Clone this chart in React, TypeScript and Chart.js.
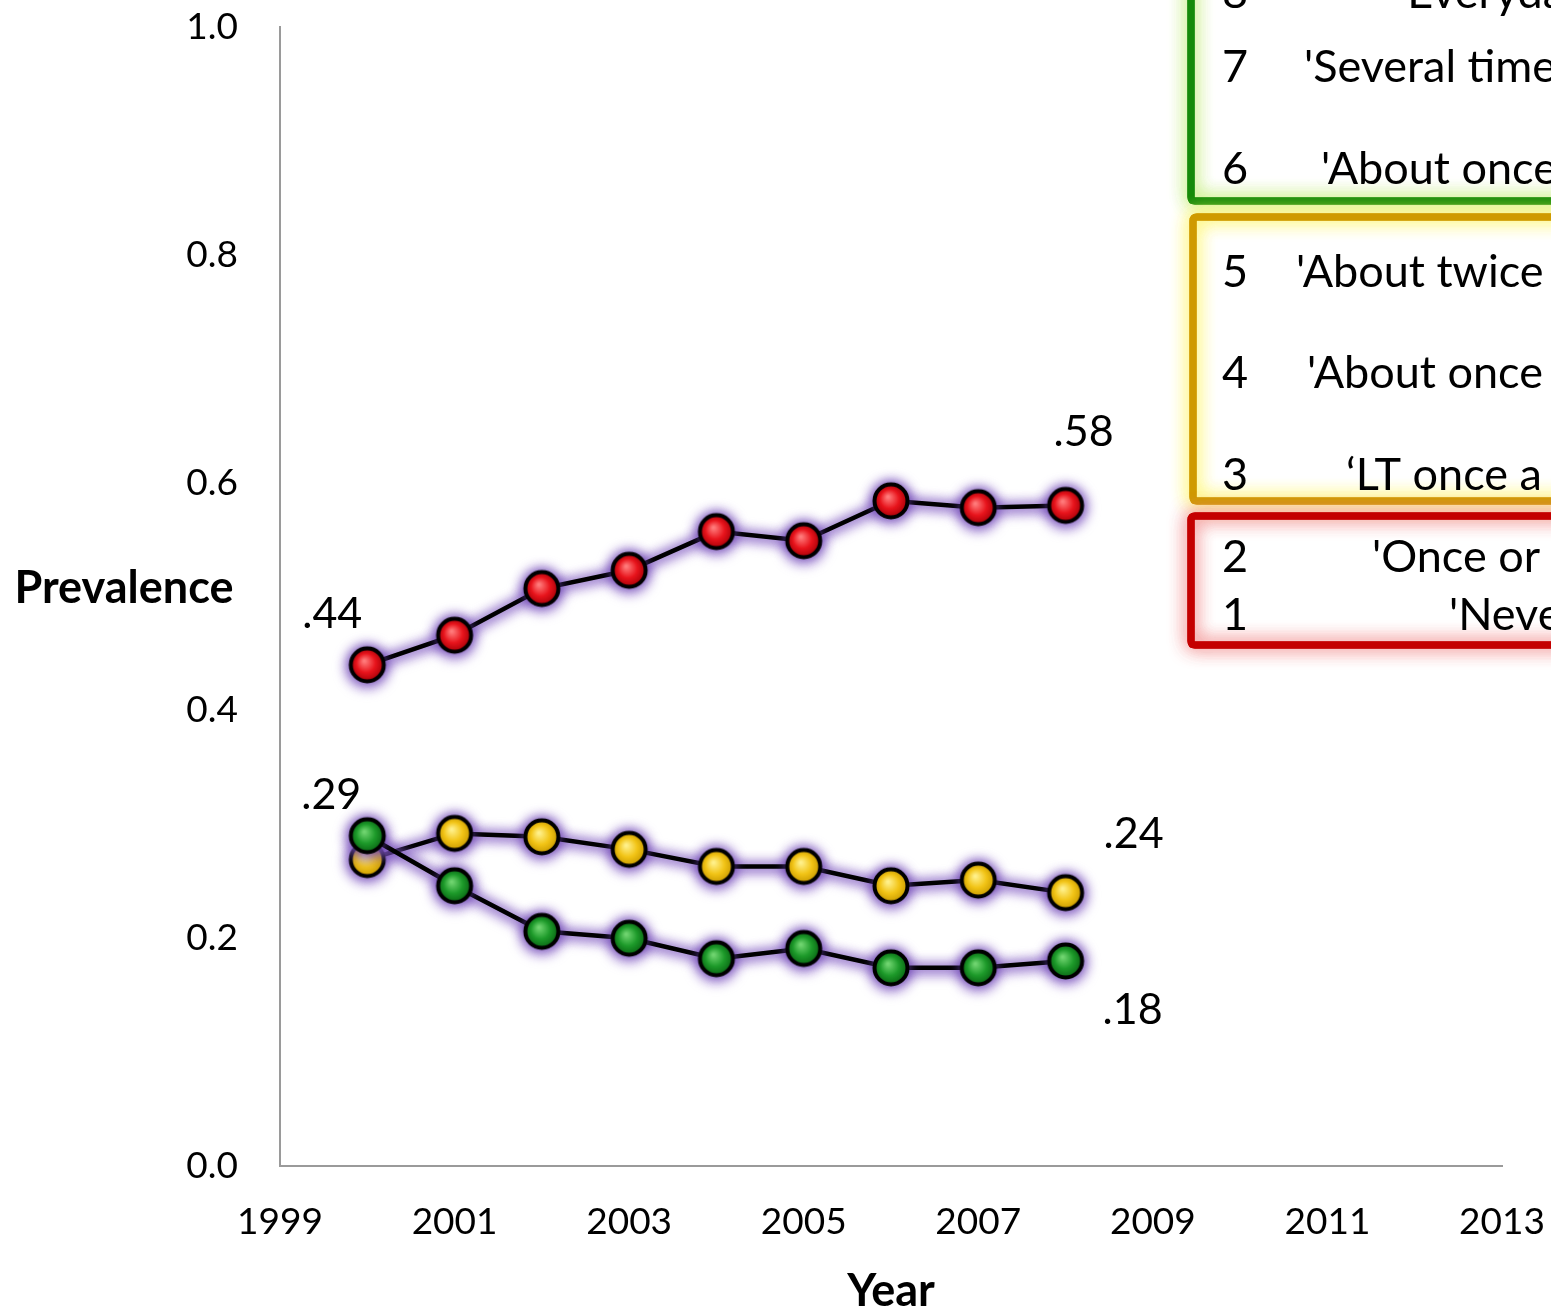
import React, { useEffect, useRef } from 'react';
import { Chart, registerables } from 'chart.js';

Chart.register(...registerables);

// Survey years
const years = [2000, 2001, 2002, 2003, 2004, 2005, 2006, 2007, 2008];

// Prevalence by response group
const rarelyOrNever = [0.44, 0.466, 0.507, 0.523, 0.557, 0.549, 0.584, 0.578, 0.58];
const monthly = [0.269, 0.292, 0.289, 0.278, 0.263, 0.263, 0.246, 0.251, 0.24];
const weeklyOrMore = [0.29, 0.246, 0.206, 0.2, 0.182, 0.191, 0.174, 0.174, 0.18];

// Axis ticks
const xTicks = [1999, 2001, 2003, 2005, 2007, 2009, 2011, 2013];
const yTicks = [0, 0.2, 0.4, 0.6, 0.8, 1.0];

// Response scale shown in the key, grouped by colour band
const greenBand = [
  { code: '8', text: "'Everyday'" },
  { code: '7', text: "'Several times a week'" },
  { code: '6', text: "'About once a week'" },
];
const yellowBand = [
  { code: '5', text: "'About twice a month'" },
  { code: '4', text: "'About once a month'" },
  { code: '3', text: '\u2018LT once a month\u2019' },
];
const redBand = [
  { code: '2', text: "'Once or twice a year'" },
  { code: '1', text: "'Never'" },
];

const FONT = 'Lato, "Liberation Sans", sans-serif';

function makeSphere(base: string, light: string, dark: string): HTMLCanvasElement {
  const size = 44;
  const c = document.createElement('canvas');
  c.width = size;
  c.height = size;
  const g = c.getContext('2d')!;
  const cx = size / 2;
  const cy = size / 2;
  const r = 16.5;
  const grad = g.createRadialGradient(cx - 3, cy - 4, 1, cx, cy, r);
  grad.addColorStop(0, light);
  grad.addColorStop(0.55, base);
  grad.addColorStop(1, dark);
  g.beginPath();
  g.arc(cx, cy, r, 0, Math.PI * 2);
  g.fillStyle = grad;
  g.fill();
  g.lineWidth = 4;
  g.strokeStyle = '#000';
  g.stroke();
  return c;
}

function roundRectPath(ctx: CanvasRenderingContext2D, x: number, y: number, w: number, h: number, r: number) {
  ctx.beginPath();
  ctx.moveTo(x + r, y);
  ctx.lineTo(x + w - r, y);
  ctx.quadraticCurveTo(x + w, y, x + w, y + r);
  ctx.lineTo(x + w, y + h - r);
  ctx.quadraticCurveTo(x + w, y + h, x + w - r, y + h);
  ctx.lineTo(x + r, y + h);
  ctx.quadraticCurveTo(x, y + h, x, y + h - r);
  ctx.lineTo(x, y + r);
  ctx.quadraticCurveTo(x, y, x + r, y);
  ctx.closePath();
}

export default function App() {
  const canvasRef = useRef<HTMLCanvasElement | null>(null);

  useEffect(() => {
    document.body.style.margin = '0';
    const canvas = canvasRef.current;
    if (!canvas) return;

    const redDot = makeSphere('#e8141c', '#ff7a7a', '#a80008');
    const yellowDot = makeSphere('#f2c416', '#fff08a', '#c99a00');
    const greenDot = makeSphere('#1d9a2a', '#6fd46f', '#0a6614');

    // soft lavender halo behind each series, then a shadow on the series itself
    const glowPlugin = {
      id: 'glow',
      beforeDatasetDraw(chart: any, args: any) {
        const ctx: CanvasRenderingContext2D = chart.ctx;
        const pts = args.meta.data as any[];
        ctx.save();
        ctx.filter = 'blur(6px)';
        ctx.strokeStyle = 'rgba(140, 100, 205, 0.55)';
        ctx.fillStyle = 'rgba(140, 100, 205, 0.6)';
        ctx.lineWidth = 13;
        ctx.lineJoin = 'round';
        ctx.beginPath();
        pts.forEach((p, k) => {
          if (k === 0) ctx.moveTo(p.x, p.y + 2);
          else ctx.lineTo(p.x, p.y + 2);
        });
        ctx.stroke();
        pts.forEach((p) => {
          ctx.beginPath();
          ctx.arc(p.x, p.y + 2, 23, 0, Math.PI * 2);
          ctx.fill();
        });
        ctx.restore();

        ctx.save();
        ctx.shadowColor = 'rgba(100, 60, 170, 0.9)';
        ctx.shadowBlur = 12;
      },
      afterDatasetDraw(chart: any) {
        chart.ctx.restore();
      },
    };

    // value labels at the start and end of series
    const valueLabels = [
      { ds: 0, i: 0, dx: -35, dy: -37 },
      { ds: 1, i: 0, dx: -36, dy: -27 },
      { ds: 0, i: 8, dx: 18, dy: -59 },
      { ds: 2, i: 8, dx: 68, dy: -45 },
      { ds: 1, i: 8, dx: 67, dy: 63 },
    ];

    const annotationPlugin = {
      id: 'annotations',
      afterDatasetsDraw(chart: any) {
        const ctx: CanvasRenderingContext2D = chart.ctx;
        ctx.save();
        ctx.fillStyle = '#000';
        ctx.font = `43px ${FONT}`;
        ctx.textAlign = 'center';
        ctx.textBaseline = 'alphabetic';
        for (const l of valueLabels) {
          const pt = chart.getDatasetMeta(l.ds).data[l.i];
          const raw: any = chart.data.datasets[l.ds].data[l.i];
          const v = typeof raw === 'number' ? raw : raw.y;
          const txt = v.toFixed(2).replace(/^0/, '');
          ctx.fillText(txt, pt.x + l.dx, pt.y + l.dy);
        }

        // axis titles
        const area = chart.chartArea;
        ctx.font = `bold 45px ${FONT}`;
        ctx.textBaseline = 'middle';
        ctx.fillText('Prevalence', 124, (area.top + area.bottom) / 2 - 8);
        ctx.fillText('Year', (area.left + area.right) / 2, 1291);
        ctx.restore();
      },
      afterDraw(chart: any) {
        const ctx: CanvasRenderingContext2D = chart.ctx;
        const drawBand = (
          top: number, bottom: number, left: number,
          stroke: string, glow: string,
          rows: { code: string; text: string }[], baselines: number[], starts: number[]
        ) => {
          ctx.save();
          roundRectPath(ctx, left, top, 1640 - left, bottom - top, 4);
          ctx.lineWidth = 7;
          ctx.strokeStyle = stroke;
          ctx.shadowColor = glow;
          ctx.shadowBlur = 18;
          ctx.stroke();
          ctx.stroke();
          ctx.shadowBlur = 0;
          ctx.stroke();
          ctx.restore();

          ctx.save();
          ctx.fillStyle = '#000';
          ctx.font = `45px ${FONT}`;
          ctx.textBaseline = 'alphabetic';
          ctx.textAlign = 'left';
          rows.forEach((r, k) => {
            ctx.fillText(r.code, 1222, baselines[k]);
            ctx.fillText(r.text, starts[k], baselines[k]);
          });
          ctx.restore();
        };

        drawBand(-40, 201, 1191, '#158a0a', 'rgba(190, 235, 110, 0.95)',
          greenBand, [8, 82, 184], [1398, 1304, 1321]);
        drawBand(217, 501, 1193, '#cf9a00', 'rgba(255, 245, 90, 0.95)',
          yellowBand, [287, 388, 490], [1296, 1307, 1346]);
        drawBand(516, 645, 1191, '#c40000', 'rgba(240, 130, 130, 0.9)',
          redBand, [572, 630], [1372, 1449]);
      },
    };

    const toPoints = (vals: number[]) => vals.map((v, i) => ({ x: years[i], y: v }));

    const chart = new Chart(canvas, {
      type: 'line',
      data: {
        datasets: [
          {
            label: 'Rarely or never',
            data: toPoints(rarelyOrNever) as any,
            borderColor: '#000',
            borderWidth: 4.5,
            pointStyle: redDot as any,
            pointRadius: 18,
          },
          {
            label: 'Weekly or more',
            data: toPoints(weeklyOrMore) as any,
            borderColor: '#000',
            borderWidth: 4.5,
            pointStyle: greenDot as any,
            pointRadius: 18,
          },
          {
            label: 'Monthly',
            data: toPoints(monthly) as any,
            borderColor: '#000',
            borderWidth: 4.5,
            pointStyle: yellowDot as any,
            pointRadius: 18,
          },
        ],
      },
      options: {
        responsive: false,
        animation: false,
        events: [],
        layout: { padding: { top: 27, right: 49, left: 0, bottom: 0 } },
        plugins: {
          legend: { display: false },
          tooltip: { enabled: false },
        },
        scales: {
          x: {
            type: 'linear',
            min: xTicks[0],
            max: xTicks[xTicks.length - 1],
            afterFit: (s: any) => {
              s.height = 145;
              s.paddingLeft = 0;
              s.paddingRight = 0;
            },
            afterBuildTicks: (s: any) => { s.ticks = xTicks.map((v) => ({ value: v })); },
            grid: { display: false, drawTicks: false },
            border: { display: true, color: '#9a9a9a', width: 2 },
            ticks: {
              padding: 34,
              color: '#000',
              font: { family: FONT, size: 37 },
              callback: (v: any) => String(v),
              maxRotation: 0,
              autoSkip: false,
            },
          },
          y: {
            type: 'linear',
            min: yTicks[0],
            max: yTicks[yTicks.length - 1],
            afterFit: (s: any) => {
              s.width = 280;
              s.paddingTop = 0;
              s.paddingBottom = 0;
            },
            afterBuildTicks: (s: any) => { s.ticks = yTicks.map((v) => ({ value: v })); },
            grid: { display: false, drawTicks: false },
            border: { display: true, color: '#9a9a9a', width: 2 },
            ticks: {
              padding: 42,
              color: '#000',
              font: { family: FONT, size: 37 },
              callback: (v: any) => Number(v).toFixed(1),
              autoSkip: false,
            },
          },
        },
      },
      plugins: [glowPlugin, annotationPlugin],
    });

    return () => chart.destroy();
  }, []);

  return (
    <canvas
      ref={canvasRef}
      width={1551}
      height={1311}
      style={{ display: 'block', width: 1551, height: 1311, background: '#fff' }}
    />
  );
}
